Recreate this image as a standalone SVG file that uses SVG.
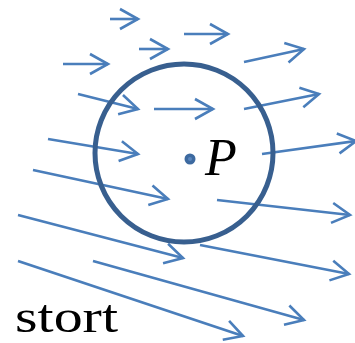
<svg xmlns="http://www.w3.org/2000/svg" width="355" height="343" viewBox="0 0 355 343">
<style>
.f{stroke:#4a7ebb;stroke-width:2.6;fill:none;marker-end:url(#ah)}
.lbl{font-family:"Liberation Serif",serif;fill:#000}
</style>
<defs>
<marker id="ah" markerUnits="userSpaceOnUse" markerWidth="30" markerHeight="30" viewBox="-22 -15 30 30" refX="0" refY="0" orient="auto">
<path d="M-18,-10 L0,0 L-18,10" fill="none" stroke="#4a7ebb" stroke-width="2.6"/>
</marker>
</defs>
<rect width="355" height="343" fill="#fff"/>
<g id="connectors">
<line class="f" x1="110" y1="19" x2="138" y2="19"/>
<line class="f" x1="139" y1="49" x2="168" y2="49"/>
<line class="f" x1="63" y1="64" x2="108" y2="64"/>
<line class="f" x1="78" y1="94" x2="138" y2="109"/>
<line class="f" x1="154" y1="109" x2="213" y2="109"/>
<line class="f" x1="184" y1="34" x2="228" y2="34"/>
<line class="f" x1="244" y1="62" x2="304" y2="49"/>
<line class="f" x1="244" y1="109" x2="319" y2="94"/>
<line class="f" x1="48" y1="139" x2="138" y2="154"/>
<line class="f" x1="33" y1="170" x2="168" y2="199"/>
<line class="f" x1="18" y1="215" x2="183" y2="258"/>
<line class="f" x1="262" y1="154" x2="356" y2="141"/>
<line class="f" x1="217" y1="200" x2="350" y2="215"/>
<line class="f" x1="200" y1="245" x2="349" y2="274"/>
<line class="f" x1="93" y1="261" x2="304" y2="320"/>
<line class="f" x1="18" y1="261" x2="243" y2="336"/>
</g>
<g id="circle">
<circle cx="184" cy="153" r="89" fill="none" stroke="#385f8f" stroke-width="5"/>
</g>
<g id="P">
<circle cx="190" cy="159" r="5.5" fill="#3d6aa0"/>
<circle cx="190" cy="159" r="2" fill="#5a86bd"/>
<text class="lbl" x="205" y="175" font-size="52" font-style="italic">P</text>
</g>
<g id="stort">
<text class="lbl" x="15" y="332" font-size="47" textLength="103" lengthAdjust="spacingAndGlyphs">stort</text>
</g>
</svg>
